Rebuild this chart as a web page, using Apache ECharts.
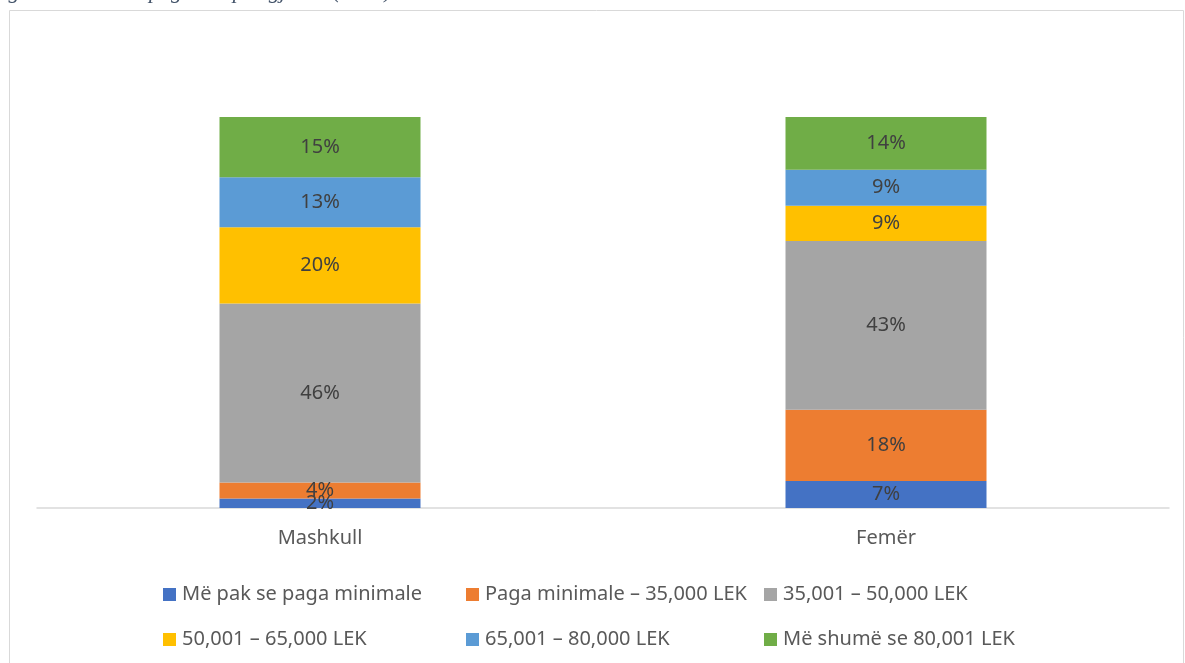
<!DOCTYPE html>
<html>
<head>
<meta charset="utf-8">
<script src="https://cdn.jsdelivr.net/npm/echarts@6/dist/echarts.min.js"></script>
<style>
  html, body { margin: 0; padding: 0; background: #fff; }
  #main { width: 1185px; height: 663px; }
</style>
</head>
<body>
<div id="main"></div>
<script>
// kategorite
var categories = ['Mashkull', 'Femër'];
// emrat e serive (nivelet e pages)
var seriesNames = [
   'Më pak se paga minimale',
   'Paga minimale – 35,000 LEK',
   '35,001 – 50,000 LEK',
   '50,001 – 65,000 LEK',
   '65,001 – 80,000 LEK',
   'Më shumë se 80,001 LEK'
];
var seriesColors = ['#4472C4', '#ED7D31', '#A5A5A5', '#FFC000', '#5B9BD5', '#70AD47'];
// vlerat ne % (Mashkull, Femër)
var belowMin = [2.4, 6.9];
var minTo35 = [4.1, 18.2];
var from35to50 = [45.8, 43.2];
var from50to65 = [19.5, 9.0];
var from65to80 = [12.8, 9.2];
var above80 = [15.4, 13.5];
var allValues = [belowMin, minTo35, from35to50, from50to65, from65to80, above80];

var chart = echarts.init(document.getElementById('main'));

var series = seriesNames.map(function (name, i) {
   return {
      name: name,
      type: 'bar',
      stack: 'total',
      barWidth: 201,
      itemStyle: { color: seriesColors[i] },
      label: {
         show: true,
         position: 'inside',
         color: '#404040',
         fontSize: 20,
         fontFamily: 'Noto Sans',
         formatter: function (p) { return Math.round(p.value) + '%'; }
      },
      data: allValues[i]
   };
});

// legjenda ne 3 kolona me 2 rreshta (si ne Excel)
var legendCol = function (left, items) {
   return {
      orient: 'vertical',
      left: left,
      top: 576,
      itemWidth: 13,
      itemHeight: 13,
      itemGap: 18,
      icon: 'rect',
      textStyle: { color: '#595959', fontSize: 20, fontFamily: 'Noto Sans', lineHeight: 27, padding: [0, 0, 0, 1] },
      data: items
   };
};

chart.setOption({
   animation: false,
   graphic: [
      {
         type: 'rect',
         shape: { x: 9.5, y: 10.5, width: 1174, height: 660 },
         style: { fill: 'none', stroke: '#d9d9d9', lineWidth: 1 }
      },
      {
         type: 'text',
         x: -11,
         y: -19,
         style: {
            text: 'Figura 4: Niveli i pagave sipas gjinisë (2021)',
            fill: '#44546A',
            font: 'italic 22px "Liberation Serif"'
         }
      }
   ],
   legend: [
      legendCol(158, [seriesNames[0], seriesNames[3]]),
      legendCol(461, [seriesNames[1], seriesNames[4]]),
      legendCol(759, [seriesNames[2], seriesNames[5]])
   ],
   grid: { left: 37, right: 16, top: 117, bottom: 155 },
   xAxis: {
      type: 'category',
      data: categories,
      axisTick: { show: false },
      axisLine: { lineStyle: { color: '#d9d9d9', width: 1.5 } },
      axisLabel: { color: '#595959', fontSize: 20, fontFamily: 'Noto Sans', margin: 20 }
   },
   yAxis: {
      type: 'value',
      min: 0,
      max: 100,
      show: false,
      splitLine: { show: false }
   },
   series: series
});
</script>
</body>
</html>
